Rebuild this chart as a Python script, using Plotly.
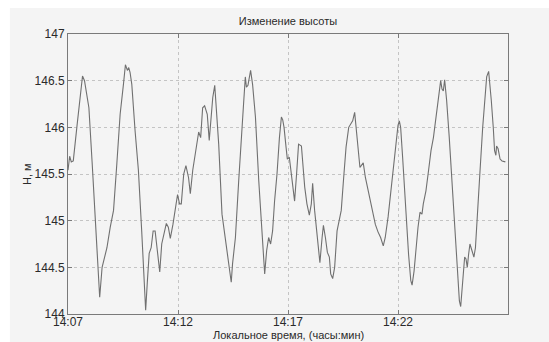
import pandas as pd
import plotly.graph_objects as go

# minutes after 14:07:00
minutes = [
    0.00, 0.075, 0.15, 0.24, 0.42, 0.57, 0.66, 0.75, 0.87, 0.95, 1.10, 1.25, 1.35, 1.44,
    1.55, 1.65, 1.77, 1.92, 2.07, 2.22, 2.37, 2.52, 2.61, 2.70, 2.76, 2.82, 2.90, 3.05,
    3.20, 3.35, 3.47, 3.53, 3.60, 3.69, 3.78, 3.87, 3.96, 4.05, 4.17, 4.26, 4.35, 4.47,
    4.56, 4.65, 4.77, 4.86, 4.98, 5.07, 5.15, 5.26, 5.36, 5.48, 5.56, 5.67, 5.76, 5.86,
    5.94, 6.03, 6.12, 6.21, 6.27, 6.33, 6.42, 6.52, 6.58, 6.67, 6.76, 6.85, 7.00, 7.15,
    7.27, 7.38, 7.42, 7.48, 7.61, 7.76, 7.88, 7.98, 8.06, 8.11, 8.18, 8.24, 8.30, 8.39,
    8.52, 8.67, 8.79, 8.89, 8.94, 9.03, 9.12, 9.21, 9.30, 9.39, 9.50, 9.61, 9.70, 9.76,
    9.82, 9.91, 9.97, 10.06, 10.15, 10.24, 10.30, 10.39, 10.48, 10.61, 10.67, 10.76,
    10.86, 10.97, 11.06, 11.12, 11.21, 11.33, 11.45, 11.55, 11.61, 11.70, 11.79, 11.88,
    11.94, 12.03, 12.12, 12.23, 12.33, 12.42, 12.53, 12.64, 12.76, 12.85, 12.94, 13.03,
    13.12, 13.21, 13.27, 13.33, 13.42, 13.52, 13.64, 13.76, 13.88, 13.97, 14.09, 14.21,
    14.33, 14.42, 14.55, 14.67, 14.79, 14.91, 15.00, 15.06, 15.12, 15.21, 15.30, 15.39,
    15.48, 15.58, 15.64, 15.73, 15.82, 15.91, 16.00, 16.09, 16.15, 16.27, 16.39, 16.50,
    16.61, 16.70, 16.79, 16.88, 16.94, 17.00, 17.06, 17.12, 17.21, 17.33, 17.45, 17.58,
    17.70, 17.79, 17.85, 17.94, 18.03, 18.09, 18.15, 18.21, 18.27, 18.36, 18.45, 18.52,
    18.61, 18.73, 18.85, 18.94, 19.03, 19.12, 19.18, 19.24, 19.33, 19.39, 19.45, 19.48,
    19.55, 19.61, 19.64, 19.73, 19.88,
]

height_m = [
    145.54, 145.69, 145.63, 145.64, 146.04, 146.39, 146.55, 146.50, 146.29, 146.21, 145.61,
    144.96, 144.54, 144.18, 144.50, 144.61, 144.71, 144.93, 145.11, 145.61, 146.14, 146.46,
    146.67, 146.61, 146.64, 146.59, 146.46, 145.96, 145.54, 144.89, 144.25, 144.04, 144.32,
    144.65, 144.71, 144.89, 144.89, 144.68, 144.45, 144.75, 144.86, 144.97, 144.93, 144.81,
    144.96, 145.11, 145.28, 145.18, 145.18, 145.50, 145.59, 145.46, 145.29, 145.54, 145.68,
    145.86, 145.95, 145.89, 146.21, 146.23, 146.18, 146.14, 145.86, 146.14, 146.32, 146.45,
    146.14, 145.82, 145.07, 144.82, 144.61, 144.46, 144.34, 144.54, 144.82, 145.43, 145.82,
    146.25, 146.54, 146.43, 146.45, 146.54, 146.61, 146.46, 146.11, 145.43, 144.96, 144.54,
    144.43, 144.68, 144.82, 144.75, 144.89, 145.21, 145.50, 145.89, 146.11, 146.08, 146.00,
    145.79, 145.66, 145.68, 145.50, 145.29, 145.21, 145.50, 145.82, 145.80, 145.61, 145.36,
    145.18, 145.06, 145.18, 145.40, 145.11, 144.86, 144.55, 144.82, 144.95, 144.82, 144.66,
    144.61, 144.43, 144.38, 144.50, 144.89, 145.02, 145.11, 145.46, 145.79, 146.00, 146.04,
    146.07, 146.16, 145.96, 145.71, 145.57, 145.59, 145.62, 145.46, 145.32, 145.18, 145.04,
    144.96, 144.88, 144.82, 144.73, 144.82, 145.04, 145.32, 145.54, 145.86, 146.02, 146.07,
    146.00, 145.68, 145.32, 144.96, 144.64, 144.36, 144.31, 144.46, 144.75, 144.93, 145.09,
    145.07, 145.18, 145.32, 145.54, 145.75, 145.89, 146.05, 146.18, 146.34, 146.50, 146.41,
    146.39, 146.51, 146.29, 145.89, 145.43, 144.96, 144.50, 144.14, 144.08, 144.36, 144.61,
    144.59, 144.50, 144.64, 144.75, 144.68, 144.61, 144.71, 145.11, 145.54, 146.00, 146.32,
    146.54, 146.60, 146.46, 146.29, 146.00, 145.75, 145.70, 145.80, 145.77, 145.71, 145.66,
    145.64, 145.63,
]

x_ticks = ["14:07", "14:12", "14:17", "14:22"]
y_ticks = [144, 144.5, 145, 145.5, 146, 146.5, 147]

base = pd.Timestamp("2000-01-01 14:07:00")
times = [base + pd.Timedelta(minutes=m) for m in minutes]
tickvals = [pd.Timestamp("2000-01-01 " + t + ":00") for t in x_ticks]

BG = "#f4f4f4"
AX = "#7a7a7a"
TXT = "#2a2a2a"
FONT = "Liberation Sans, Arial, sans-serif"

fig = go.Figure()
fig.add_trace(go.Scatter(x=times, y=height_m, mode="lines",
                         line=dict(color="#707070", width=1.1), showlegend=False))

fig.add_shape(type="rect", xref="paper", yref="paper", x0=-0.132, x1=1.1,
              y0=-0.11, y1=1.093, fillcolor=BG, line=dict(width=0), layer="below")

fig.add_annotation(text="Локальное время, (часы:мин)", xref="paper", yref="paper",
                   x=0.5, y=-21 / 280, xanchor="center", yanchor="middle",
                   showarrow=False, font=dict(size=11, color=TXT))
fig.add_annotation(text="H, м", xref="paper", yref="paper",
                   x=-41 / 440, y=0.5, xanchor="center", yanchor="middle",
                   textangle=-90, showarrow=False, font=dict(size=11, color=TXT))

fig.update_layout(
    width=549, height=342,
    margin=dict(l=68, r=41, t=34, b=28, autoexpand=False),
    paper_bgcolor="white", plot_bgcolor=BG,
    font=dict(family=FONT, size=12, color=TXT),
    title=dict(text="Изменение высоты", x=0.5, xref="paper", xanchor="center",
               y=1 - 21 / 342, yanchor="middle",
               font=dict(size=11, color=TXT)),
)
fig.update_xaxes(
    type="date", automargin=False,
    range=[base, base + pd.Timedelta(minutes=20)],
    tickvals=tickvals, ticktext=x_ticks,
    ticks="inside", ticklen=4, tickcolor=AX,
    ticklabelstandoff=-3,
    showline=True, linecolor=AX, linewidth=1, mirror="allticks",
    showgrid=True, gridcolor="#c4c4c4", griddash="dot", gridwidth=1,
    zeroline=False,
    tickfont=dict(size=12, color=TXT),
)
fig.update_yaxes(
    automargin=False,
    range=[144, 147], tickvals=y_ticks,
    ticks="inside", ticklen=4, tickcolor=AX,
    showline=True, linecolor=AX, linewidth=1, mirror="allticks",
    showgrid=True, gridcolor="#c4c4c4", griddash="dot", gridwidth=1,
    zeroline=False,
    tickfont=dict(size=12, color=TXT),
)

fig.write_html("out.html")
